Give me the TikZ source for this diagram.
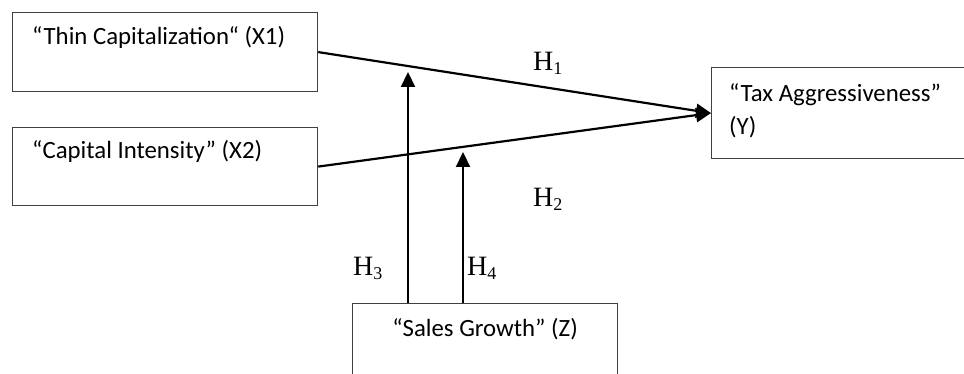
\documentclass[tikz,border=0pt]{standalone}
\usepackage{fontspec}
\setmainfont{Carlito}
\newfontfamily\hypfont{Liberation Serif}
\usetikzlibrary{positioning, arrows.meta}

\newcommand{\hsub}[1]{{\hypfont\fontsize{28}{28}\selectfont H\raisebox{-4pt}{\fontsize{18}{18}\selectfont #1}}}

\begin{document}
\begin{tikzpicture}[x=1pt, y=-1pt,
    varbox/.style={draw=black!75, line width=1.2pt, anchor=north west, inner sep=0pt},
    boxtext/.style={font=\fontsize{24.8}{33}\selectfont, anchor=base west, inner sep=0pt, align=left},
    arr/.style={line width=2.2pt, -{Triangle[length=15pt,width=14pt]}},
    hlabel/.style={anchor=base west, inner sep=0pt}]
    \useasboundingbox (0,0) rectangle (964,374);

    % Variables
    \node[varbox, minimum width=305pt, minimum height=79pt] (x1) at (12,12) {};
    \node[varbox, minimum width=305pt, minimum height=78pt] (x2) at (12,127) {};
    \node[varbox, minimum width=265pt, minimum height=91pt] (y) at (711,67) {};
    \node[varbox, minimum width=265pt, minimum height=90pt] (z) at (352,303) {};

    \node[boxtext] (x1t) at ([shift={(20,33)}]x1.north west) {“Thin Capitalization“ (X1)};
    \node[boxtext] (x2t) at ([shift={(20,32)}]x2.north west) {“Capital Intensity” (X2)};
    \node[boxtext] (yt) at ([shift={(18,68)}]y.north west) {“Tax Aggressiveness”\\(Y)};
    \node[boxtext, anchor=base] (zt) at ([yshift=-33pt]z.north) {“Sales Growth” (Z)};

    % Direct effects
    \draw[arr] (x1.east) -- (y.west);
    \draw[arr] (x2.east) -- (y.west);

    % Moderation
    \coordinate (m3) at (408,72);
    \coordinate (m4) at (463,152);
    \draw[arr] (z.north -| m3) -- (m3);
    \draw[arr] (z.north -| m4) -- (m4);

    % Hypotheses
    \node[hlabel] (h1) at (533,71) {\hsub{1}};
    \node[hlabel] (h2) at (533,207) {\hsub{2}};
    \node[hlabel] (h3) at (353,276) {\hsub{3}};
    \node[hlabel] (h4) at (467,276) {\hsub{4}};
\end{tikzpicture}
\end{document}
